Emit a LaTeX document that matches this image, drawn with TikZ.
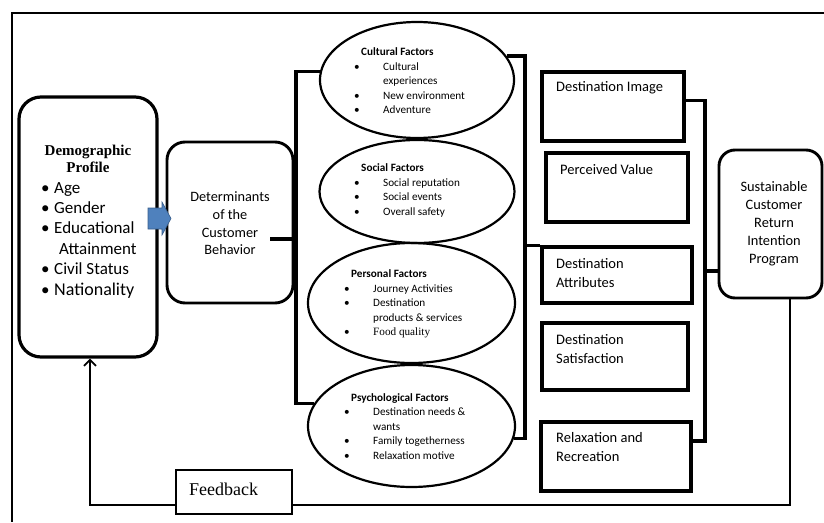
\documentclass[tikz,border=0pt]{standalone}
\usepackage{fontspec}
\setmainfont{Carlito}
\newfontfamily\serif{Liberation Serif}
\usetikzlibrary{arrows.meta,shapes.geometric,calc}
\newcommand\myb{\makebox[29pt][l]{\textbullet}}
\newcommand\myind{\hspace*{29pt}}
\newcommand\mytit{\hspace*{7pt}}
\newcommand\myDb{\makebox[13pt][l]{\textbullet}}
\begin{document}
\begin{tikzpicture}[x=1pt,y=-1pt,
  sqbox/.style={draw, line width=3.3pt, inner sep=0pt},
  rndbox/.style={draw, line width=2.9pt, inner sep=0pt},
  ell/.style={draw, ellipse, line width=2.2pt, inner sep=0pt},
  brk/.style={line width=3.3pt, line join=miter},
  fbl/.style={line width=2.5pt},
  etxt/.style={anchor=west, align=left, inner sep=0pt, font=\fontsize{11.2}{14.5}\selectfont},
  btxt/.style={anchor=west, align=left, inner sep=0pt, font=\fontsize{14.5}{19}\selectfont}
]
\useasboundingbox (0,0) rectangle (824,522);

% outer frame
\draw[line width=2.2pt] (824,13) -- (12,13) -- (12,522);

% left boxes
\node[rndbox, line width=3.2pt, rounded corners=22pt, minimum width=138pt, minimum height=260pt] (demo) at (88,227) {};
\node[align=center, inner sep=0pt, font=\serif\bfseries\fontsize{15}{17}\selectfont] (demot) at (88,158.5) {Demographic\\Profile};
\node[anchor=west, align=left, inner sep=0pt, font=\fontsize{17}{20.4}\selectfont] (demol) at (41,240) {%
\myDb Age\\
\myDb Gender\\
\myDb Educational\\
\hspace*{18pt}Attainment\\
\myDb Civil Status\\
\myDb{\fontsize{18}{20.4}\selectfont Nationality}};

\node[rndbox, rounded corners=18pt, minimum width=126pt, minimum height=161pt] (det) at (230,222.5) {};
\node[align=center, inner sep=0pt, font=\fontsize{14.3}{17.7}\selectfont] (dett) at (230,223.5) {Determinants\\of the\\Customer\\Behavior};

% blue block arrow
\filldraw[fill={rgb,255:red,79;green,129;blue,189}, draw={rgb,255:red,56;green,93;blue,138}, line width=0.6pt]
  (148,208) -- (162,208) -- (162,202) -- (171,218.5) -- (162,235) -- (162,229) -- (148,229) -- cycle;

% ellipses
\node[ell, minimum width=194pt, minimum height=116pt] (cul) at (417,80) {};
\node[ell, minimum width=195pt, minimum height=103pt] (soc) at (417,191.5) {};
\node[ell, minimum width=207pt, minimum height=120pt] (per) at (411.5,303) {};
\node[ell, minimum width=207pt, minimum height=122pt] (psy) at (411.5,426) {};

\node[etxt] (cult) at (354,81) {%
\mytit\textbf{Cultural Factors}\\
\myb Cultural\\
\myind experiences\\
\myb New environment\\
\myb Adventure};
\node[etxt] (soct) at (354,190.5) {%
\mytit\textbf{Social Factors}\\
\myb Social reputation\\
\myb Social events\\
\myb Overall safety};
\node[etxt] (pert) at (344,304) {%
\mytit\textbf{Personal Factors}\\
\myb Journey Activities\\
\myb Destination\\
\myind products \& services\\
\myb{\serif Food quality}};
\node[etxt] (psyt) at (344,426.5) {%
\mytit\textbf{Psychological Factors}\\
\myb Destination needs \&\\
\myind wants\\
\myb Family togetherness\\
\myb Relaxation motive};

% right boxes
\node[sqbox, minimum width=142pt, minimum height=69pt] (di) at (613,106.5) {};
\node[sqbox, minimum width=142pt, minimum height=69pt] (pv) at (617,187.5) {};
\node[sqbox, minimum width=150pt, minimum height=56pt] (da) at (617,275) {};
\node[sqbox, minimum width=146pt, minimum height=67pt] (ds) at (615,356.5) {};
\node[sqbox, minimum width=150pt, minimum height=69pt] (rr) at (616,456.5) {};
\node[btxt] (dit) at (556,88) {Destination Image};
\node[btxt] (pvt) at (560,170) {Perceived Value};
\node[btxt] (dat) at (556,273) {Destination\\Attributes};
\node[btxt] (dst) at (556,349) {Destination\\Satisfaction};
\node[btxt] (rrt) at (556,447.5) {Relaxation and\\Recreation};

\node[rndbox, rounded corners=16pt, minimum width=103pt, minimum height=148pt] (sus) at (770.5,224) {};
\node[align=center, inner sep=0pt, font=\fontsize{14.4}{18}\selectfont] (sust) at (774,224) {Sustainable\\Customer\\Return\\Intention\\Program};

% feedback box
\node[sqbox, line width=2.5pt, minimum width=116pt, minimum height=44pt] (fb) at (234,492) {};
\node[anchor=west, inner sep=0pt, font=\serif\fontsize{18}{20}\selectfont] (fbt) at (189,489) {Feedback};

% brackets
\coordinate (lbx) at (296,0);
\coordinate (detc) at (270,239);
\draw[brk] (cul.175) -- (cul.175 -| lbx) -- (psy.167 -| lbx) -- (psy.167);
\draw[brk] (detc) -- (detc -| lbx);

\coordinate (rbx) at (525,0);
\draw[brk] (cul.15) -- (cul.15 -| rbx) -- (psy.-7 -| rbx) -- (psy.-7);
\draw[brk] (da.north west -| rbx) -- (da.north west);

\coordinate (rcx) at (705,0);
\coordinate (dic) at ($(di.east)+(0,-6)$);
\coordinate (rrc) at ($(rr.east)+(-3,-15.5)$);
\coordinate (susc) at ($(sus.west)+(0,47)$);
\draw[brk] (dic) -- (dic -| rcx) -- (rrc -| rcx) -- (rrc);
\draw[brk] (susc -| rcx) -- (susc);

% feedback loop
\coordinate (sush) at ($(sus.south)+(19.5,0)$);
\coordinate (fbe) at ($(fb.east)+(0,13)$);
\coordinate (fbw) at ($(fb.west)+(0,13)$);
\coordinate (demh) at ($(demo.south)+(2,0)$);
\draw[fbl] (sush) |- (fbe);
\draw[fbl, -{Straight Barb[length=6pt,width=12pt,line width=1.8pt]}] (fbw) -| (demh);
\end{tikzpicture}
\end{document}
